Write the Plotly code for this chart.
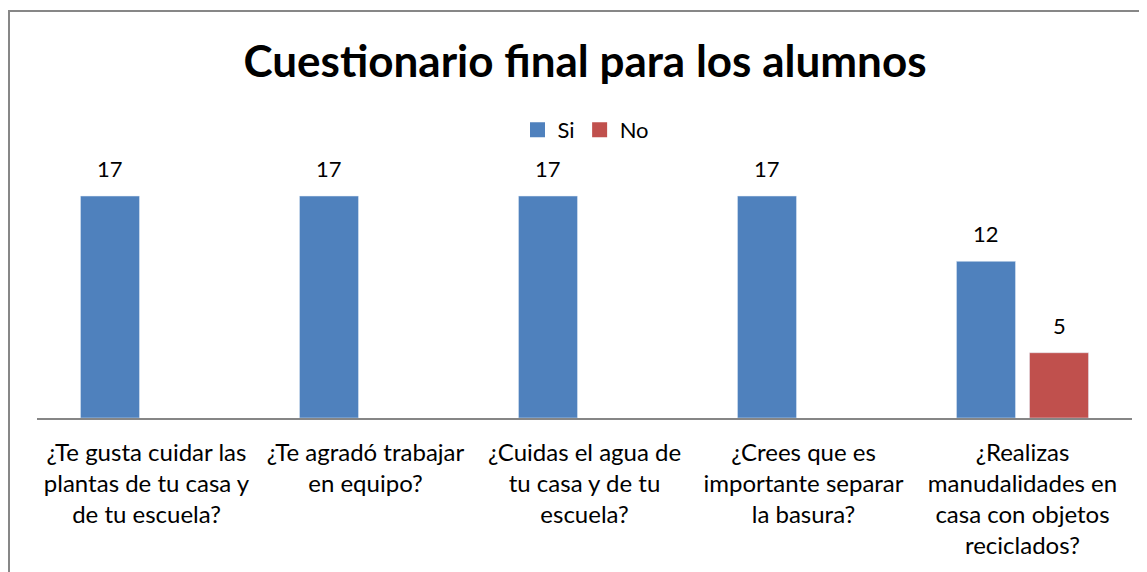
import plotly.graph_objects as go

categories = [
    "¿Te gusta cuidar las<br>plantas de tu casa y<br>de tu escuela?",
    "¿Te agradó trabajar<br>en equipo?",
    "¿Cuidas el agua de<br>tu casa y de tu<br>escuela?",
    "¿Crees que es<br>importante separar<br>la basura?",
    "¿Realizas<br>manudalidades en<br>casa con objetos<br>reciclados?",
]
si_values = [17, 17, 17, 17, 12]
no_values = [None, None, None, None, 5]

FONT = "Lato, Carlito, Calibri, sans-serif"
BLUE = "#4F81BD"
RED = "#C0504D"

# page body has an 8px default margin; coordinates below are figure pixels
W, H = 1139, 564
L, R, T, B = 29, 1124, 175, 410  # plot area pixel edges

fig = go.Figure()
fig.add_trace(go.Bar(name="Si", x=categories, y=si_values, marker_color=BLUE,
                     showlegend=False))
fig.add_trace(go.Bar(name="No", x=categories, y=no_values, marker_color=RED,
                     showlegend=False))
# legend entries with larger square swatches
for nm, col in (("Si", BLUE), ("No", RED)):
    fig.add_trace(go.Scatter(x=[None], y=[None], mode="markers", name=nm,
                             marker=dict(symbol="square", size=15, color=col)))

slot = (R - L) / len(categories) * (1 - 0.333) / 2
for vals, sh in ((si_values, -slot / 2), (no_values, slot / 2)):
    for c, v in zip(categories, vals):
        if v is None:
            continue
        fig.add_annotation(x=c, y=v, text=str(v), showarrow=False,
                           xshift=sh, yshift=12, yanchor="bottom",
                           font=dict(family=FONT, size=22, color="#000000"))

pw, ph = R - L, B - T
fig.add_shape(type="rect", xref="paper", yref="paper",
              x0=(1 - L) / pw, x1=(1200 - L) / pw,
              y0=(B - 650) / ph, y1=(B - 3) / ph,
              line=dict(color="#878787", width=2), layer="below")

fig.update_layout(
    width=W, height=H,
    margin=dict(l=L, r=W - R, t=T, b=H - B, pad=0),
    paper_bgcolor="white", plot_bgcolor="white",
    barmode="group", bargap=0.333, bargroupgap=0.192,
    title=dict(text="<b>Cuestionario final para los alumnos</b>",
               x=577 / W, xanchor="center", y=1 - 54 / H, yanchor="middle",
               yref="container",
               font=dict(family=FONT, size=44, color="#000000")),
    legend=dict(orientation="h", x=(578 - L) / pw, xanchor="center",
                y=(B - 122) / ph, yanchor="middle",
                font=dict(family=FONT, size=22, color="#000000"),
                itemwidth=30, traceorder="normal"),
    font=dict(family=FONT, color="#000000"),
    showlegend=True,
)
fig.update_xaxes(showline=True, linecolor="#868686", linewidth=2,
                 ticks="", showgrid=False, ticklabelstandoff=12,
                 tickfont=dict(family=FONT, size=24, color="#000000"))
fig.update_yaxes(range=[0, 18], visible=False, showgrid=False)

fig.write_html("out.html")
